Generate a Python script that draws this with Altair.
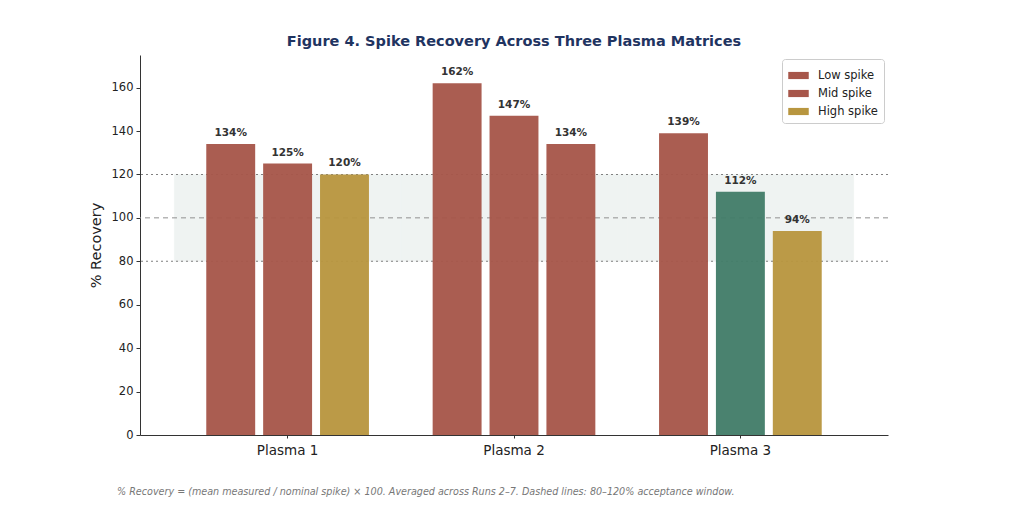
import altair as alt
import pandas as pd

# ---- data ----
groups = ["Plasma 1", "Plasma 2", "Plasma 3"]
series = ["Low spike", "Mid spike", "High spike"]
p1 = [134, 125, 120]   # low, mid, high
p2 = [162, 147, 134]
p3 = [139, 112, 94]
window_lo = 80
window_hi = 120
window_mid = 100
title_text = "Figure 4. Spike Recovery Across Three Plasma Matrices"
caption = "% Recovery = (mean measured / nominal spike) × 100. Averaged across Runs 2–7. Dashed lines: 80–120% acceptance window."

# ---- styles ----
RED = "#a7564a"
GREEN = "#437d69"
GOLD = "#b8963f"
BAND = "#eff3f2"
series_color = {"Low spike": GREEN, "Mid spike": GREEN, "High spike": GOLD}
FONT = "DejaVu Sans"

rows = []
for g, vals in zip(groups, [p1, p2, p3]):
    for s, v in zip(series, vals):
        rows.append({"group": g, "series": s, "value": v})
df = pd.DataFrame(rows)


def bar_color(s, v):
    return RED if v > window_hi else series_color[s]


df["fill"] = [bar_color(s, v) for s, v in zip(df["series"], df["value"])]
df["label"] = [f"{v}%" for v in df["value"]]
legend_range = [bar_color(s, v) for s, v in zip(series, p1)]

W, H = 748, 380
ydom = [0, 175]

xenc = alt.X("group:N", sort=groups, scale=alt.Scale(paddingInner=0, paddingOuter=0.152),
             axis=alt.Axis(title=None, labelAngle=0, labelAlign="center", labelFontSize=13.5,
                           labelColor="#222", tickColor="#333", tickSize=3, domainColor="#333",
                           labelPadding=12))
xoff = alt.XOffset("series:N", sort=series, scale=alt.Scale(paddingInner=0.14, paddingOuter=0.56))
yscale = alt.Scale(domain=ydom, nice=False)

band_df = pd.DataFrame({"group": groups, "lo": [window_lo] * 3, "hi": [window_hi] * 3})
band = alt.Chart(band_df).mark_rect(color=BAND, stroke=BAND, strokeWidth=0.6).encode(
    x=alt.X("group:N", sort=groups),
    y=alt.Y("lo:Q", scale=yscale),
    y2="hi:Q",
)

dotted = alt.Chart(pd.DataFrame({"y": [window_lo, window_hi]})).mark_rule(
    color="#808080", strokeDash=[2, 3], strokeWidth=1.1).encode(y=alt.Y("y:Q", scale=yscale))
dashed = alt.Chart(pd.DataFrame({"y": [window_mid]})).mark_rule(
    color="#909090", strokeDash=[5, 4], strokeWidth=1).encode(y=alt.Y("y:Q", scale=yscale))

base = alt.Chart(df)
bars = base.mark_bar(opacity=0.96).encode(
    x=xenc,
    xOffset=xoff,
    y=alt.Y("value:Q", scale=yscale,
            axis=alt.Axis(title="% Recovery", values=list(range(0, 161, 20)), grid=False,
                          labelFontSize=11.5, labelColor="#222", tickColor="#333", tickSize=4,
                          domainColor="#333", titleFontSize=14.5, titleFontWeight="normal",
                          titleColor="#222", titlePadding=8, labelPadding=3)),
    fill=alt.Fill("fill:N", scale=None),
)
legend_layer = base.mark_bar(opacity=0).encode(
    x=alt.X("group:N", sort=groups),
    xOffset=xoff,
    y=alt.Y("value:Q", scale=yscale),
    color=alt.Color("series:N", sort=series,
                    scale=alt.Scale(domain=series, range=legend_range),
                    legend=alt.Legend(title=None, orient="none", legendX=642, legendY=4,
                                      symbolType="M-1,-0.35H1V0.35H-1Z", symbolSize=420,
                                      symbolOpacity=1, symbolStrokeWidth=0,
                                      labelFontSize=11.5, labelColor="#222", labelFont=FONT,
                                      labelOffset=9,
                                      strokeColor="#cccccc", fillColor="white", cornerRadius=3,
                                      padding=6, rowPadding=2)),
)
labels = base.mark_text(dy=-6, fontSize=10.5, fontWeight="bold", color="#333", baseline="bottom").encode(
    x=alt.X("group:N", sort=groups),
    xOffset=xoff,
    y=alt.Y("value:Q", scale=yscale),
    text="label:N",
)
cap = alt.Chart(pd.DataFrame({"t": [caption]})).mark_text(
    align="left", baseline="middle", fontSize=9.6, fontStyle="italic", color="#777", font=FONT
).encode(x=alt.value(-23), y=alt.value(437), text="t:N")

chart = alt.layer(band, dotted, dashed, bars, legend_layer, labels, cap).properties(
    width=W, height=H,
    title=alt.Title(title_text, fontSize=14.5, fontWeight="bold", color="#1f3461", font=FONT,
                    anchor="middle", offset=6),
    autosize=alt.AutoSizeParams(type="none"),
    padding={"left": 140, "top": 55, "right": 136, "bottom": 77},
).configure(font=FONT).configure_view(strokeWidth=0, stroke="transparent").configure_axisX(
    domainWidth=1).configure_axisY(domainWidth=1)

chart.save("out.html", embed_options={"renderer": "svg", "actions": False})
